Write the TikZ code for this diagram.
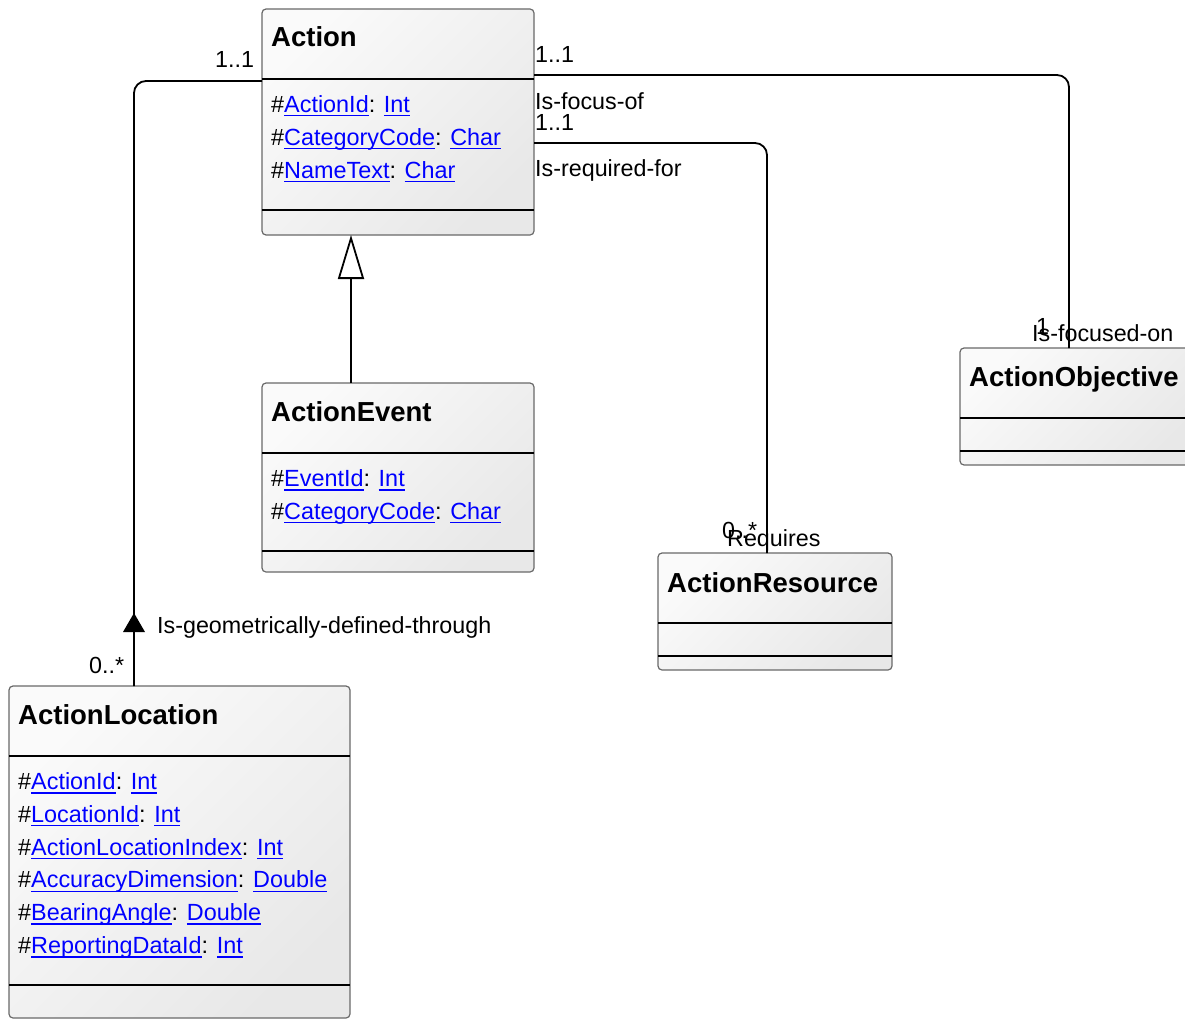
\documentclass[tikz,border=0pt]{standalone}
\usepackage{fontspec}
\setmainfont{Liberation Sans}
\usetikzlibrary{arrows.meta}
\definecolor{linkblue}{RGB}{0,0,255}
\definecolor{boxborder}{RGB}{105,105,105}
\definecolor{boxlight}{RGB}{250,250,250}
\definecolor{boxdark}{RGB}{232,232,232}
% underlined hyperlink-style text
\newcommand\lnk[1]{{\color{linkblue}\setbox0\hbox{#1}\rlap{\rule[-4pt]{\wd0}{1.4pt}}\box0}}
\begin{document}
\begin{tikzpicture}[x=1pt,y=-1pt,
  umlbox/.style={draw=boxborder, line width=1.2pt, rounded corners=4pt,
    top color=boxlight, bottom color=boxdark, shading angle=45,
    anchor=north west, inner sep=0pt, outer sep=0pt},
  title/.style={font=\fontsize{27.5}{32}\selectfont\bfseries, anchor=base west, inner sep=0pt},
  attr/.style={font=\fontsize{23.4}{28}\selectfont, anchor=base west, inner sep=0pt},
  lbl/.style={font=\fontsize{23.3}{28}\selectfont, anchor=base west, inner sep=0pt},
  divider/.style={line width=1.6pt, black},
  assoc/.style={line width=1.8pt, rounded corners=12pt},
  gen/.style={line width=1.8pt, -{Triangle[open, length=44pt, width=26pt]}}]
\useasboundingbox (0,0) rectangle (1185,1019);
\clip (0,0) rectangle (1185,1019);

% ---- classes ----
\node[umlbox, minimum width=272pt, minimum height=226pt] (action) at (262,9) {};
\node[umlbox, minimum width=272pt, minimum height=189pt] (event) at (262,383) {};
\node[umlbox, minimum width=234pt, minimum height=117pt] (res) at (658,553) {};
\node[umlbox, minimum width=240pt, minimum height=117pt] (obj) at (960,348) {};
\node[umlbox, minimum width=341pt, minimum height=332pt] (loc) at (9,686) {};

% compartments
\draw[divider] ([yshift=-70pt]action.north west) -- ([yshift=-70pt]action.north east);
\draw[divider] ([yshift=-201pt]action.north west) -- ([yshift=-201pt]action.north east);
\draw[divider] ([yshift=-70pt]event.north west) -- ([yshift=-70pt]event.north east);
\draw[divider] ([yshift=-168pt]event.north west) -- ([yshift=-168pt]event.north east);
\draw[divider] ([yshift=-70pt]res.north west) -- ([yshift=-70pt]res.north east);
\draw[divider] ([yshift=-103pt]res.north west) -- ([yshift=-103pt]res.north east);
\draw[divider] ([yshift=-70pt]obj.north west) -- ([yshift=-70pt]obj.north east);
\draw[divider] ([yshift=-103pt]obj.north west) -- ([yshift=-103pt]obj.north east);
\draw[divider] ([yshift=-70pt]loc.north west) -- ([yshift=-70pt]loc.north east);
\draw[divider] ([yshift=-299pt]loc.north west) -- ([yshift=-299pt]loc.north east);

% titles
\node[title] (action-t) at ([xshift=9pt,yshift=-38pt]action.north west) {Action};
\node[title] (event-t) at ([xshift=9pt,yshift=-38pt]event.north west) {ActionEvent};
\node[title] (res-t) at ([xshift=9pt,yshift=-39pt]res.north west) {ActionResource};
\node[title] (obj-t) at ([xshift=9pt,yshift=-38pt]obj.north west) {ActionObjective};
\node[title] (loc-t) at ([xshift=9pt,yshift=-38pt]loc.north west) {ActionLocation};

% attributes
\node[attr] (action-a1) at ([xshift=9pt,yshift=-103.5pt]action.north west) {\#\lnk{ActionId}: \lnk{Int}};
\node[attr] (action-a2) at ([xshift=9pt,yshift=-136.3pt]action.north west) {\#\lnk{CategoryCode}: \lnk{Char}};
\node[attr] (action-a3) at ([xshift=9pt,yshift=-169.1pt]action.north west) {\#\lnk{NameText}: \lnk{Char}};

\node[attr] (event-a1) at ([xshift=9pt,yshift=-103.5pt]event.north west) {\#\lnk{EventId}: \lnk{Int}};
\node[attr] (event-a2) at ([xshift=9pt,yshift=-136.3pt]event.north west) {\#\lnk{CategoryCode}: \lnk{Char}};

\node[attr] (loc-a1) at ([xshift=9pt,yshift=-103.5pt]loc.north west) {\#\lnk{ActionId}: \lnk{Int}};
\node[attr] (loc-a2) at ([xshift=9pt,yshift=-136.3pt]loc.north west) {\#\lnk{LocationId}: \lnk{Int}};
\node[attr] (loc-a3) at ([xshift=9pt,yshift=-169.1pt]loc.north west) {\#\lnk{ActionLocationIndex}: \lnk{Int}};
\node[attr] (loc-a4) at ([xshift=9pt,yshift=-201.9pt]loc.north west) {\#\lnk{AccuracyDimension}: \lnk{Double}};
\node[attr] (loc-a5) at ([xshift=9pt,yshift=-234.7pt]loc.north west) {\#\lnk{BearingAngle}: \lnk{Double}};
\node[attr] (loc-a6) at ([xshift=9pt,yshift=-267.5pt]loc.north west) {\#\lnk{ReportingDataId}: \lnk{Int}};

% ---- connectors ----
% generalization ActionEvent -> Action
\draw[gen] ([xshift=89pt]event.north west) -- ([xshift=89pt]action.south west);

% Action -- ActionLocation
\coordinate (geo-end) at ([xshift=125pt]loc.north west);
\draw[assoc] ([yshift=-72pt]action.north west) -| (geo-end);
\fill ([yshift=73pt]geo-end) -- ([xshift=-11pt,yshift=54pt]geo-end) -- ([xshift=11pt,yshift=54pt]geo-end) -- cycle;

% Action -- ActionObjective
\draw[assoc] ([yshift=-66pt]action.north east) -| ([xshift=109pt]obj.north west);

% Action -- ActionResource
\draw[assoc] ([yshift=-134pt]action.north east) -| ([xshift=109pt]res.north west);

% ---- association labels ----
\node[lbl] (m-geo-src) at (215,68) {1..1};
\node[lbl] (m-geo-dst) at (89,673) {0..*};
\node[lbl] (n-geo) at (157,633) {Is-geometrically-defined-through};

\node[lbl] (m-foc-src) at (535,63) {1..1};
\node[lbl] (n-foc-src) at (535,110) {Is-focus-of};
\node[lbl] (m-foc-dst) at (1036,334) {1};
\node[lbl] (n-foc-dst) at (1032,341) {Is-focused-on};

\node[lbl] (m-req-src) at (535,130.5) {1..1};
\node[lbl] (n-req-src) at (535,177) {Is-required-for};
\node[lbl] (m-req-dst) at (722,538) {0..*};
\node[lbl] (n-req-dst) at (727,546) {Requires};
\end{tikzpicture}
\end{document}
